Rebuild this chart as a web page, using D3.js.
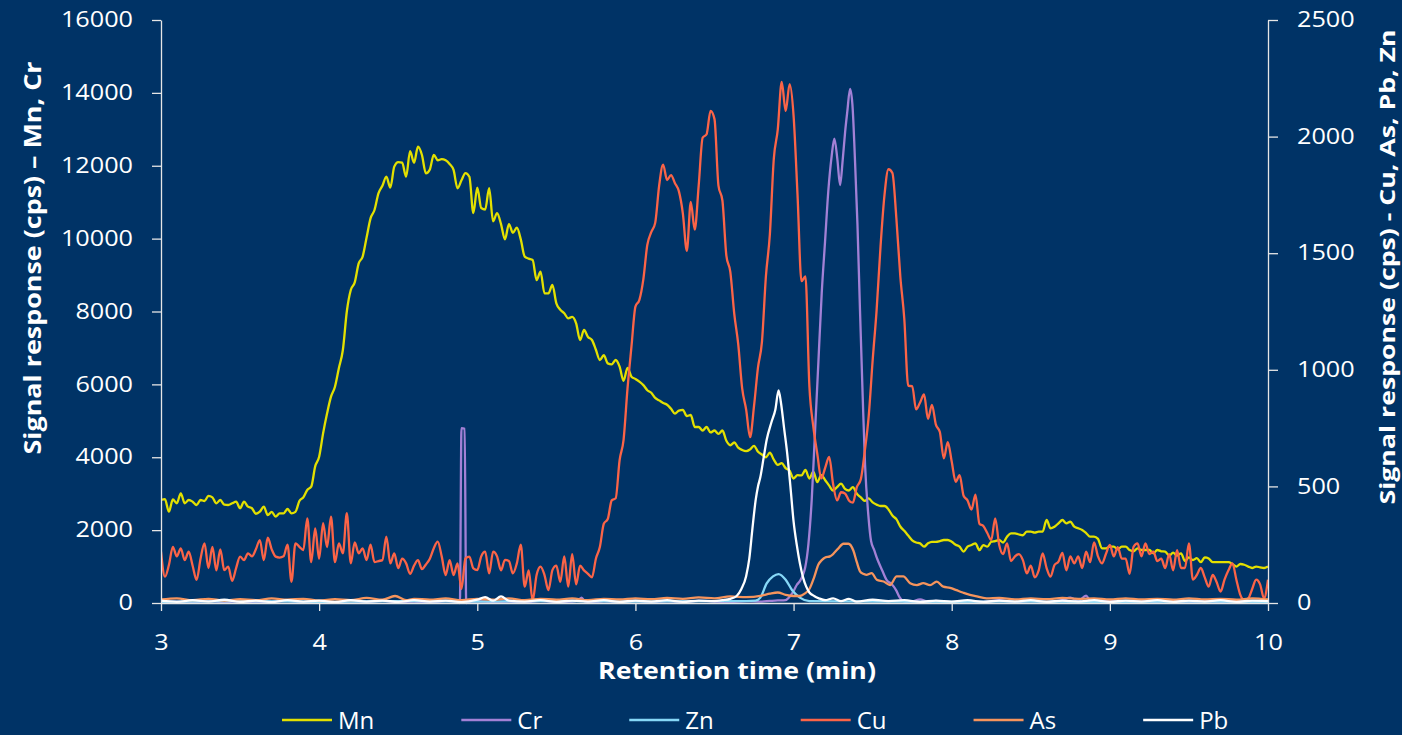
<!DOCTYPE html>
<html>
<head>
<meta charset="utf-8">
<script src="https://cdn.jsdelivr.net/npm/d3@7/dist/d3.min.js"></script>
<style>
  body { margin: 0; background: #003366; }
  svg { display: block; }
  text { font-family: "Open Sans", sans-serif; fill: #ffffff; }
</style>
</head>
<body>
<svg id="chart" width="1402" height="735"></svg>
<script>
// sampled every 0.025 min from 3 min (Mn and Cu)
var T0 = 3, DT = 0.025;

var mnValues = [
  2827, 2850, 2506, 2840, 2736, 3010, 2736, 2827, 2781, 2690, 2827, 2800, 2940, 2900, 2736, 2827, 2700, 2690, 2736, 2780, 2600,
  2781, 2643, 2600, 2450, 2506, 2643, 2415, 2500, 2369, 2461, 2461, 2580, 2461, 2500, 2800, 2900, 3101, 3192, 3750, 4015,
  4656, 5200, 5662, 5936, 6450, 6943, 8000, 8590, 8800, 9322, 9505, 10030, 10557, 10786, 11243, 11450, 11701, 11400, 11975, 12100,
  12084, 11700, 12400, 12084, 12523, 12295, 11792, 11900, 12300, 12150, 12180, 12150, 12050, 11884, 11383, 11600, 11800, 11700, 10703, 11400,
  10840, 10800, 11383, 10474, 10700, 10400, 9980, 10400, 10160, 10300, 9980, 9505, 9450, 9413, 8865, 9093, 8500, 8500, 8727, 8224,
  8050, 7950, 7813, 7850, 7676, 7218, 7492, 7300, 7218, 6950, 6669, 6800, 6577, 6550, 6669, 6486, 6100, 6450, 6211, 6150,
  6073, 5980, 5840, 5771, 5630, 5560, 5490, 5442, 5330, 5200, 5280, 5300, 5130, 5159, 4830, 4830, 4734, 4830, 4680, 4734,
  4641, 4734, 4451, 4330, 4405, 4265, 4200, 4169, 4217, 4311, 4150, 4075, 4000, 4123, 3934, 3793, 3840, 3700, 3630, 3417,
  3510, 3500, 3650, 3417, 3603, 3321, 3510, 3370, 3220, 3087, 3181, 3274, 3134, 3087, 3181, 3000, 2900, 2804, 2870, 2760,
  2700, 2662, 2662, 2569, 2400, 2300, 2100, 1980, 1850, 1720, 1660, 1637, 1546, 1637, 1680, 1680, 1700, 1729, 1729, 1680,
  1600, 1546, 1409, 1546, 1590, 1637, 1450, 1590, 1546, 1680, 1700, 1729, 1660, 1820, 1912, 1912, 1880, 1860, 1960, 1960,
  1930, 1960, 1960, 2278, 2050, 2095, 2186, 2278, 2186, 2230, 2095, 2050, 2003, 1920, 1820, 1820, 1760, 1500, 1500, 1546,
  1546, 1470, 1546, 1546, 1455, 1420, 1500, 1455, 1455, 1455, 1363, 1455, 1420, 1409, 1300, 1380, 1300, 1363, 1150, 1250,
  1180, 1230, 1120, 1250, 1220, 1120, 1120, 1120, 1120, 1120, 1070, 1000, 1070, 1050, 1000, 960, 1000, 980, 960, 1000
];

var cuValues = [
  220, 113, 163, 241, 200, 234, 184, 220, 160, 99, 190, 256, 150, 241, 140, 230, 141, 156, 95, 150, 199,
  184, 213, 200, 230, 270, 184, 280, 230, 199, 195, 200, 250, 91, 256, 241, 227, 363, 175, 320, 190,
  342, 240, 370, 175, 256, 213, 385, 170, 260, 213, 234, 184, 250, 175, 180, 184, 284, 170, 213, 150,
  190, 170, 125, 160, 184, 145, 165, 190, 235, 263, 200, 120, 184, 120, 170, 60, 191, 199, 148, 141,
  200, 220, 127, 220, 200, 140, 185, 180, 127, 170, 250, 70, 140, 10, 120, 156, 120, 55, 141, 160,
  91, 200, 70, 210, 80, 160, 140, 125, 110, 190, 240, 340, 360, 440, 449, 613, 700, 920, 1100, 1271,
  1300, 1388, 1535, 1590, 1630, 1790, 1880, 1814, 1835, 1800, 1765, 1670, 1510, 1720, 1601, 1790, 1995, 2010, 2110, 2075,
  1790, 1726, 1490, 1420, 1240, 1110, 920, 830, 711, 845, 1010, 1120, 1400, 1580, 1905, 2030, 2235, 2110, 2225, 2090,
  1750, 1380, 1400, 930, 755, 640, 534, 580, 626, 510, 440, 475, 470, 440, 430, 497, 530, 650, 800, 1040,
  1255, 1530, 1750, 1860, 1844, 1650, 1400, 1220, 931, 930, 830, 860, 894, 790, 850, 765, 733, 620, 690, 607,
  520, 548, 460, 440, 400, 465, 340, 330, 300, 270, 363, 250, 210, 256, 180, 200, 210, 184, 127, 160,
  110, 140, 213, 150, 113, 163, 177, 215, 140, 200, 170, 200, 150, 220, 175, 260, 200, 170, 210, 249,
  200, 240, 190, 190, 125, 241, 256, 200, 256, 210, 220, 180, 190, 150, 210, 140, 227, 150, 150, 256,
  100, 120, 150, 110, 70, 120, 90, 49, 100, 140, 170, 100, 35, 13, 20, 60, 100, 80, 20, 100
];

// [time, value] pairs for the sparser traces
var crPoints = [
  [3.0, 20], [3.1, 40], [3.2, 10], [3.3, 60], [3.4, 20], [3.5, 50], [3.6, 10], [3.7, 40], [3.8, 60], [3.9, 20],
  [4.0, 40], [4.1, 10], [4.2, 50], [4.3, 30], [4.4, 60], [4.5, 20], [4.6, 40], [4.7, 10], [4.8, 50], [4.88, 20],
  [4.89, 0], [4.90, 4800], [4.92, 4780], [4.93, 0], [4.95, 30], [5.0, 50], [5.1, 20], [5.2, 40], [5.3, 10], [5.4, 60],
  [5.5, 30], [5.6, 40], [5.64, 80], [5.66, 150], [5.68, 40], [5.75, 20], [5.8, 50], [5.9, 30], [6.0, 60], [6.1, 20],
  [6.2, 50], [6.3, 30], [6.4, 60], [6.5, 40], [6.6, 30], [6.7, 50], [6.8, 40], [6.85, 60], [6.9, 70], [6.95, 80],
  [6.98, 200], [7.0, 330], [7.02, 494], [7.04, 600], [7.06, 780], [7.073, 966], [7.094, 1625], [7.115, 2851], [7.136, 4734], [7.157, 6619],
  [7.178, 8504], [7.199, 9918], [7.22, 11328], [7.241, 12272], [7.258, 12742], [7.277, 12176], [7.294, 11470], [7.311, 12176], [7.326, 12931], [7.34, 13496],
  [7.357, 14108], [7.372, 13685], [7.389, 12082], [7.404, 10387], [7.42, 8032], [7.437, 5678], [7.452, 3793], [7.473, 2400], [7.49, 1700], [7.51, 1450],
  [7.53, 1200], [7.56, 900], [7.59, 620], [7.62, 520], [7.65, 340], [7.67, 160], [7.69, 60], [7.72, 20], [7.75, 40], [7.8, 100],
  [7.85, 30], [7.9, 60], [8.0, 20], [8.1, 50], [8.2, 30], [8.3, 80], [8.4, 20], [8.5, 60], [8.6, 30], [8.7, 80],
  [8.75, 150], [8.8, 60], [8.85, 200], [8.88, 40], [9.0, 60], [9.1, 20], [9.2, 50], [9.3, 30], [9.4, 70], [9.5, 20],
  [9.6, 50], [9.7, 30], [9.8, 60], [9.9, 20], [10.0, 40]
];

var znPoints = [
  [3.0, 5], [3.5, 8], [4.0, 5], [4.5, 8], [5.0, 6], [5.5, 8], [6.0, 6], [6.5, 8], [6.7, 8], [6.76, 10],
  [6.79, 23], [6.83, 84], [6.87, 114], [6.905, 124], [6.95, 100], [6.99, 56], [7.04, 23], [7.10, 8], [7.5, 6], [8.0, 5],
  [8.5, 6], [9.0, 5], [9.5, 6], [10.0, 5]
];

var asPoints = [
  [3.0, 15], [3.1, 20], [3.2, 12], [3.3, 18], [3.4, 10], [3.5, 16], [3.6, 12], [3.7, 20], [3.8, 14], [3.9, 18],
  [4.0, 10], [4.1, 16], [4.2, 12], [4.3, 22], [4.4, 14], [4.48, 30], [4.55, 12], [4.6, 18], [4.7, 14], [4.8, 20],
  [4.9, 12], [5.0, 18], [5.1, 14], [5.2, 20], [5.3, 12], [5.4, 18], [5.5, 14], [5.6, 20], [5.7, 12], [5.8, 18],
  [5.9, 15], [6.0, 20], [6.1, 16], [6.2, 22], [6.3, 18], [6.4, 24], [6.5, 20], [6.6, 28], [6.7, 25], [6.8, 32],
  [6.85, 40], [6.9, 45], [6.95, 35], [7.0, 30], [7.04, 30], [7.07, 40], [7.10, 60], [7.13, 110], [7.157, 165], [7.18, 185],
  [7.2, 195], [7.23, 200], [7.25, 210], [7.28, 232], [7.315, 254], [7.347, 254], [7.378, 225], [7.40, 175], [7.42, 136], [7.44, 125],
  [7.46, 121], [7.494, 128], [7.526, 100], [7.57, 92], [7.61, 77], [7.652, 114], [7.694, 114], [7.737, 85], [7.78, 77], [7.82, 85],
  [7.863, 77], [7.905, 92], [7.947, 70], [7.99, 65], [8.03, 55], [8.07, 45], [8.1, 38], [8.15, 30], [8.22, 20], [8.3, 22],
  [8.4, 15], [8.5, 20], [8.6, 16], [8.7, 22], [8.8, 18], [8.9, 20], [9.0, 15], [9.1, 20], [9.2, 15], [9.3, 18],
  [9.4, 14], [9.5, 20], [9.6, 15], [9.7, 18], [9.8, 14], [9.9, 20], [10.0, 15]
];

var pbPoints = [
  [3.0, 10], [3.1, 5], [3.2, 12], [3.3, 6], [3.4, 14], [3.5, 5], [3.6, 10], [3.7, 4], [3.8, 12], [3.9, 6],
  [4.0, 10], [4.1, 4], [4.2, 12], [4.3, 6], [4.4, 10], [4.5, 5], [4.6, 12], [4.7, 6], [4.8, 10], [4.9, 4],
  [5.0, 14], [5.05, 25], [5.1, 10], [5.15, 28], [5.2, 10], [5.3, 6], [5.4, 12], [5.5, 5], [5.6, 10], [5.7, 6],
  [5.8, 12], [5.9, 5], [6.0, 10], [6.1, 6], [6.2, 12], [6.3, 5], [6.4, 10], [6.5, 8], [6.55, 12], [6.6, 18],
  [6.64, 30], [6.67, 60], [6.70, 115], [6.72, 190], [6.74, 320], [6.76, 440], [6.775, 500], [6.79, 540], [6.81, 620], [6.83, 700],
  [6.86, 775], [6.885, 830], [6.905, 912], [6.92, 860], [6.94, 750], [6.96, 640], [6.98, 500], [7.0, 350], [7.02, 250], [7.04, 170],
  [7.06, 110], [7.08, 70], [7.10, 45], [7.13, 30], [7.16, 20], [7.2, 12], [7.25, 20], [7.3, 8], [7.35, 18], [7.4, 6],
  [7.5, 14], [7.6, 8], [7.7, 12], [7.8, 5], [7.9, 10], [8.0, 6], [8.1, 12], [8.2, 5], [8.3, 10], [8.4, 6],
  [8.5, 12], [8.6, 5], [8.7, 10], [8.8, 6], [8.9, 12], [9.0, 5], [9.1, 10], [9.2, 6], [9.3, 12], [9.4, 5],
  [9.5, 10], [9.6, 6], [9.7, 12], [9.8, 5], [9.9, 10], [10.0, 8]
];

var xTicks = [3, 4, 5, 6, 7, 8, 9, 10];
var leftTicks = [0, 2000, 4000, 6000, 8000, 10000, 12000, 14000, 16000];
var rightTicks = [0, 500, 1000, 1500, 2000, 2500];

var seriesNames = ["Mn", "Cr", "Zn", "Cu", "As", "Pb"];
var seriesColors = ["#e3e000", "#a281d6", "#86d8f7", "#fb6447", "#f6945c", "#ffffff"];

function sampled(values) {
  return values.map(function(v, i) { return [T0 + i * DT, v]; });
}

var series = [
  { name: "Mn", axis: "left",  pts: sampled(mnValues) },
  { name: "Cr", axis: "left",  pts: crPoints },
  { name: "Zn", axis: "right", pts: znPoints },
  { name: "Cu", axis: "right", pts: sampled(cuValues) },
  { name: "As", axis: "right", pts: asPoints },
  { name: "Pb", axis: "right", pts: pbPoints }
];

var svg = d3.select("#chart");
var plot = { left: 161, right: 1268, top: 20, bottom: 603 };

var x = d3.scaleLinear().domain([3, 10]).range([plot.left, plot.right]);
var yL = d3.scaleLinear().domain([0, 16000]).range([plot.bottom, plot.top]);
var yR = d3.scaleLinear().domain([0, 2500]).range([plot.bottom, plot.top]);

svg.append("rect").attr("width", 1402).attr("height", 735).attr("fill", "#003366");

// series
svg.append("clipPath").attr("id", "clip").append("rect")
  .attr("x", plot.left).attr("y", plot.top - 2)
  .attr("width", plot.right - plot.left).attr("height", plot.bottom - plot.top + 4);

var lines = svg.append("g").attr("clip-path", "url(#clip)");
series.forEach(function(s, k) {
  var yy = s.axis == "left" ? yL : yR;
  var line = d3.line()
    .x(function(d) { return x(d[0]); })
    .y(function(d) { return yy(d[1]); })
    .curve(d3.curveMonotoneX);
  lines.append("path")
    .datum(s.pts)
    .attr("d", line)
    .attr("fill", "none")
    .attr("stroke", seriesColors[k])
    .attr("stroke-width", 2.3)
    .attr("stroke-linejoin", "round");
});

// axes
var axisColor = "#e6e6e6";
function styleAxis(g) {
  g.select(".domain").attr("stroke", axisColor).attr("stroke-width", 1.3);
  g.selectAll(".tick line").attr("stroke", axisColor).attr("stroke-width", 1.3);
  g.selectAll(".tick text")
    .attr("fill", "#ffffff")
    .style("font-family", "'Open Sans', sans-serif")
    .style("font-size", "21px")
    .each(function() {
      var w = this.getComputedTextLength();
      d3.select(this).attr("textLength", w * 1.2).attr("lengthAdjust", "spacingAndGlyphs");
    });
}

svg.append("g")
  .attr("transform", "translate(0," + plot.bottom + ")")
  .call(d3.axisBottom(x).tickValues(xTicks).tickFormat(d3.format("d")).tickSize(8).tickSizeOuter(0).tickPadding(24))
  .call(styleAxis);

svg.append("g")
  .attr("transform", "translate(" + plot.left + ",0)")
  .call(d3.axisLeft(yL).tickValues(leftTicks).tickFormat(d3.format("d")).tickSize(9).tickSizeOuter(0).tickPadding(19))
  .call(styleAxis);

svg.append("g")
  .attr("transform", "translate(" + plot.right + ",0)")
  .call(d3.axisRight(yR).tickValues(rightTicks).tickFormat(d3.format("d")).tickSize(10).tickSizeOuter(0).tickPadding(19))
  .call(styleAxis);

// axis titles
svg.append("text")
  .attr("transform", "translate(41,258) rotate(-90)")
  .attr("text-anchor", "middle")
  .attr("textLength", 393).attr("lengthAdjust", "spacingAndGlyphs")
  .style("font-weight", "bold").style("font-size", "23px")
  .text("Signal response (cps) \u2013 Mn, Cr");

svg.append("text")
  .attr("transform", "translate(1395,267) rotate(-90)")
  .attr("text-anchor", "middle")
  .attr("textLength", 475).attr("lengthAdjust", "spacingAndGlyphs")
  .style("font-weight", "bold").style("font-size", "22px")
  .text("Signal response (cps) - Cu, As, Pb, Zn");

svg.append("text")
  .attr("x", 737).attr("y", 679)
  .attr("text-anchor", "middle")
  .attr("textLength", 278).attr("lengthAdjust", "spacingAndGlyphs")
  .style("font-weight", "bold").style("font-size", "23px")
  .text("Retention time (min)");

// legend
var legend = svg.append("g").attr("transform", "translate(282,720)");
var lx = 0;
seriesNames.forEach(function(name, k) {
  var item = legend.append("g").attr("transform", "translate(" + lx + ",0)");
  item.append("line").attr("x1", 0).attr("x2", 50).attr("y1", 0).attr("y2", 0)
    .attr("stroke", seriesColors[k]).attr("stroke-width", 2.5);
  var t = item.append("text").attr("x", 56).attr("y", 9)
    .style("font-size", "24px").text(name);
  lx += 56 + t.node().getComputedTextLength() + 87;
});
</script>
</body>
</html>
